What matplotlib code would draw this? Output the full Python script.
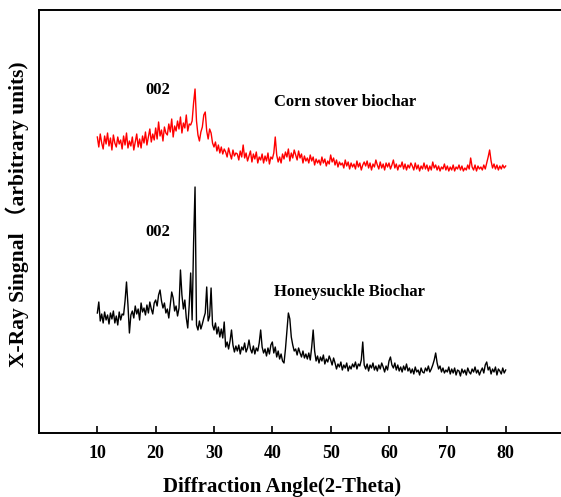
import numpy as np
import matplotlib
matplotlib.use("Agg")
import matplotlib.pyplot as plt

# 2-theta grid (degrees), step 0.25
two_theta_start = 10.0
two_theta_step = 0.25

# Corn stover biochar signal (arbitrary units)
corn_stover = [
    296, 286, 299, 290, 284, 297, 289, 300,
    287, 295, 283, 298, 290, 286, 296, 289,
    293, 284, 297, 288, 300, 285, 292, 287,
    296, 283, 291, 299, 286, 294, 285, 297,
    290, 301, 288, 296, 304, 291, 299, 293,
    305, 294, 311, 297, 303, 292, 306, 300,
    298, 309, 301, 314, 296, 307, 302, 312,
    304, 316, 300, 310, 305, 318, 302, 309,
    308, 312, 330, 344, 312, 298, 292, 301,
    306, 318, 321, 302, 294, 304, 300, 290,
    286, 291, 282, 288, 280, 286, 279, 284,
    281, 276, 285, 279, 274, 283, 277, 280,
    279, 273, 282, 276, 288, 275, 280, 272,
    277, 282, 271, 279, 274, 281, 270, 276,
    273, 279, 270, 277, 272, 280, 269, 276,
    274, 280, 296, 278, 271, 276, 270, 279,
    274, 281, 276, 284, 272, 280, 275, 283,
    278, 273, 282, 275, 279, 270, 277, 272,
    275, 270, 278, 272, 276, 268, 274, 270,
    273, 268, 276, 270, 274, 267, 272, 269,
    278, 271, 275, 268, 273, 266, 271, 268,
    270, 265, 273, 267, 271, 264, 270, 266,
    269, 264, 272, 266, 270, 263, 268, 271,
    267, 272, 265, 270, 263, 269, 266, 273,
    268, 264, 271, 265, 269, 263, 270, 266,
    270, 264, 268, 273, 265, 269, 263, 268,
    266, 271, 264, 269, 263, 268, 265, 270,
    267, 263, 270, 264, 268, 262, 267, 264,
    270, 264, 268, 262, 267, 263, 271, 265,
    268, 263, 267, 262, 266, 264, 269, 263,
    267, 262, 266, 263, 268, 262, 266, 264,
    268, 263, 267, 262, 265, 263, 268, 264,
    275, 266, 263, 268, 262, 267, 264, 266,
    263, 268, 264, 270, 276, 283, 272, 265,
    269, 264, 268, 263, 267, 264, 268, 265,
    267,
]

# Honeysuckle biochar signal (arbitrary units)
honeysuckle = [
    120, 131, 112, 119, 110, 121, 113, 118,
    109, 120, 114, 122, 110, 117, 108, 121,
    113, 119, 118, 132, 151, 128, 100, 118,
    122, 115, 127, 119, 124, 113, 130, 121,
    125, 118, 128, 120, 131, 124, 119, 130,
    133, 127, 138, 143, 132, 125, 130, 120,
    124, 115, 128, 141, 135, 122, 127, 117,
    125, 163, 138, 124, 133, 115, 105, 128,
    160, 113, 190, 246, 108, 103, 112, 104,
    109, 115, 120, 146, 112, 117, 145, 108,
    103, 110, 99, 106, 96, 104, 95, 111,
    86, 91, 84, 92, 103, 88, 81, 87,
    82, 88, 79, 86, 83, 90, 81, 85,
    93, 84, 80, 87, 79, 85, 82, 90,
    103, 86, 80, 84, 77, 85, 79, 88,
    91, 80, 86, 76, 82, 74, 79, 72,
    70, 84, 102, 120, 114, 96, 88, 82,
    84, 78, 85, 80, 76, 82, 75, 79,
    74, 80, 73, 86, 103, 82, 72, 77,
    70, 76, 72, 78, 69, 74, 71, 77,
    73, 68, 75, 70, 64, 69, 66, 71,
    63, 68, 65, 70, 62, 67, 64, 69,
    66, 71, 64, 69, 67, 73, 91, 68,
    64, 69, 62, 68, 65, 70, 63, 67,
    62, 68, 64, 70, 66, 61, 67, 63,
    72, 76, 68, 65, 70, 63, 68, 62,
    66, 61, 67, 63, 69, 62, 65, 60,
    64, 59, 66, 61, 63, 58, 65, 61,
    60, 65, 62, 67, 61, 64, 68, 73,
    80, 70, 64, 67, 61, 65, 60, 63,
    61, 66, 59, 64, 60, 65, 58, 63,
    62, 57, 64, 60, 63, 58, 65, 61,
    59, 64, 61, 66, 60, 63, 58, 62,
    65, 60, 68, 71, 63, 66, 59, 64,
    61, 66, 58, 64, 62, 59, 65, 60,
    63,
]

x_ticks = [10, 20, 30, 40, 50, 60, 70, 80]

two_theta = two_theta_start + two_theta_step * np.arange(len(corn_stover))

serif = ['Liberation Serif', 'DejaVu Serif']
cjk_serif = ['Liberation Serif', 'Noto Sans CJK SC', 'DejaVu Sans']

fig = plt.figure(figsize=(5.61, 4.97), dpi=100)
ax = fig.add_axes([39 / 561, 64 / 497, 525 / 561, 423 / 497])

ax.plot(two_theta, corn_stover, color='#ff0000', lw=1.0)
ax.plot(two_theta, honeysuckle, color='black', lw=1.0)

ax.set_xlim(0, 90)
ax.set_ylim(0, 423)
ax.set_xticks(x_ticks)
ax.set_xticklabels([str(t) for t in x_ticks], family=serif, fontweight='bold', fontsize=13)
ax.set_yticks([])
ax.tick_params(axis='x', direction='in', length=5, width=1.2, pad=9)

for s in ['left', 'top', 'bottom']:
    ax.spines[s].set_linewidth(1.4)
ax.spines['right'].set_visible(False)

ax.text(20.3, 343, '002', family=serif, fontweight='bold', fontsize=12, ha='center', va='center')
ax.text(20.3, 201, '002', family=serif, fontweight='bold', fontsize=12, ha='center', va='center')
ax.text(40.3, 331, 'Corn stover biochar', family=serif, fontweight='bold', fontsize=12, ha='left', va='center')
ax.text(40.3, 141, 'Honeysuckle Biochar', family=serif, fontweight='bold', fontsize=12, ha='left', va='center')

fig.text(282 / 561, 1 - 487 / 497, 'Diffraction Angle(2-Theta)', family=serif, fontweight='bold',
         fontsize=15, ha='center', va='center')
fig.text(17 / 561, 1 - 214 / 497, 'X-Ray Singnal （arbitrary units)', family=cjk_serif, fontweight='bold',
         fontsize=15.5, ha='center', va='center', rotation=90)

fig.savefig('out.png', dpi=100)
